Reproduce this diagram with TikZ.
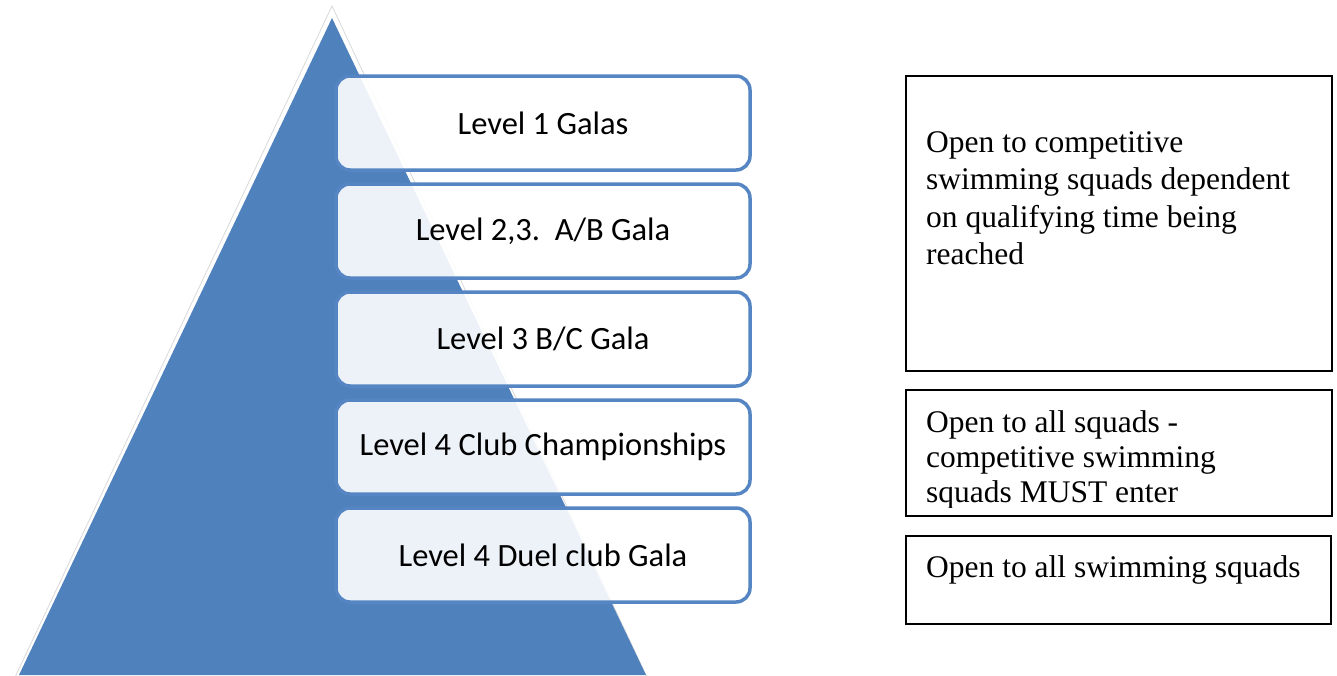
\documentclass[tikz,border=0pt]{standalone}
\usepackage{fontspec}
\newfontfamily\calfont{Carlito}
\newfontfamily\timesfont{Liberation Serif}
\definecolor{pyrblue}{HTML}{4F81BD}
\definecolor{boxblue}{HTML}{5585C2}
\tikzset{
  levelbox/.style={draw=boxblue, line width=3.5pt, rounded corners=14pt,
    fill=white, fill opacity=0.9, text opacity=1,
    minimum width=414pt, minimum height=94pt, inner sep=0pt,
    font=\calfont\fontsize{32.5}{38}\selectfont, text=black},
  notebox/.style={draw=black, line width=2.3pt, fill=none},
  notetext/.style={anchor=north west, inner sep=0pt, align=left,
    font=\timesfont\fontsize{31.5}{37.5}\selectfont, text=black}
}
\begin{document}
\begin{tikzpicture}[x=1pt,y=-1pt]
\useasboundingbox (0,0) rectangle (1337,675);
% pyramid with faint halo
\draw[gray!30, line width=0.8pt, fill=white] (332,6) -- (653,690) -- (9,690) -- cycle;
\fill[pyrblue] (332,18) -- (646,675) -- (19,675) -- cycle;
% level boxes
\node[levelbox] (l1) at (543,123) {Level 1 Galas};
\node[levelbox] (l2) at (543,231) {Level 2,3.\ \ A/B Gala};
\node[levelbox] (l3) at (543,339) {Level 3 B/C Gala};
\node[levelbox] (l4) at (543,447) {Level 4 Club Championships};
\node[levelbox] (l5) at (543,555) {Level 4 Duel club Gala};
% note boxes
\draw[notebox] (906,76) rectangle (1332,371);
\node[notetext] (n1) at (926,131) {Open to competitive\\swimming squads dependent\\on qualifying time being\\reached};
\begin{scope}
\clip (906,390) rectangle (1332,507);
\node[notetext, font=\timesfont\fontsize{31.5}{35}\selectfont] (n2) at (926,410) {Open to all squads -\\competitive swimming\\squads MUST enter};
\end{scope}
\draw[notebox] (906,390) rectangle (1332,516);
\draw[notebox] (906,536) rectangle (1331,624);
\node[notetext] (n3) at (926,555) {Open to all swimming squads};
\end{tikzpicture}
\end{document}
